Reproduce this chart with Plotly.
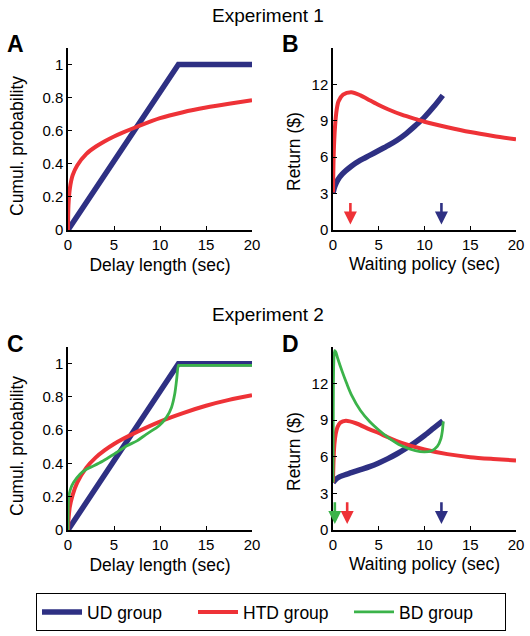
import plotly.graph_objects as go

# ---------------- data ----------------
# Panel A: Experiment 1 cumulative probability
a_ud_x = [0, 12, 20]
a_ud_y = [0, 1, 1]
a_htd_x = [0, 0.05, 0.2, 0.5, 1, 2, 3, 4, 5, 6, 7.5, 10, 12.5, 15, 17.5, 20]
a_htd_y = [0, 0.15, 0.25, 0.33, 0.39, 0.46, 0.503, 0.536, 0.565, 0.59, 0.624, 0.676, 0.712, 0.74, 0.763, 0.784]

# Panel B: Experiment 1 return
b_ud_x = [0, 0.2, 0.5, 1, 2, 3, 4, 5, 6, 7, 8, 9, 10, 11, 12]
b_ud_y = [3.05, 3.6, 4.1, 4.6, 5.25, 5.75, 6.15, 6.55, 6.95, 7.4, 7.95, 8.6, 9.3, 10.15, 11.1]
b_htd_x = [0, 0.08, 0.22, 0.4, 0.6, 1.1, 2, 3, 4, 5, 6, 7.5, 9.3, 10, 12.5, 15, 17.5, 20]
b_htd_y = [3.1, 6.3, 8.5, 9.9, 10.6, 11.15, 11.35, 11.1, 10.7, 10.3, 9.95, 9.5, 9.08, 8.92, 8.47, 8.07, 7.75, 7.47]
b_arrow_x = [1.9, 11.85]

# Panel C: Experiment 2 cumulative probability
c_ud_x = [0, 12, 20]
c_ud_y = [0, 1, 1]
c_htd_x = [0, 0.05, 0.2, 0.5, 1, 2, 3, 4, 5, 6, 7.5, 10, 12.5, 15, 17.5, 20]
c_htd_y = [0, 0.06, 0.14, 0.21, 0.285, 0.375, 0.435, 0.48, 0.517, 0.548, 0.59, 0.652, 0.703, 0.747, 0.782, 0.81]
c_bd_x = [0, 0.02, 0.08, 0.3, 0.6, 1.3, 2, 2.75, 3.8, 5, 6.4, 7.5, 8.5, 9.9, 10.7, 11.25, 11.6, 11.8, 12, 12.05, 20]
c_bd_y = [0, 0.13, 0.2, 0.25, 0.285, 0.335, 0.365, 0.385, 0.415, 0.456, 0.506, 0.536, 0.575, 0.627, 0.677, 0.737, 0.817, 0.9, 0.99, 0.99, 0.99]

# Panel D: Experiment 2 return
d_ud_x = [0, 0.3, 0.7, 1, 2, 3, 4, 5, 6, 7, 8, 9, 10, 11, 12]
d_ud_y = [3.9, 4.15, 4.35, 4.45, 4.7, 4.95, 5.2, 5.5, 5.85, 6.25, 6.7, 7.2, 7.75, 8.35, 8.95]
d_htd_x = [0, 0.05, 0.15, 0.3, 0.5, 0.8, 1.4, 2.5, 4, 5, 6, 7.5, 10, 12.5, 15, 17.5, 20]
d_htd_y = [3.9, 5.5, 7.0, 7.9, 8.45, 8.8, 8.95, 8.75, 8.25, 7.95, 7.6, 7.15, 6.6, 6.22, 5.97, 5.82, 5.7]
d_bd_x = [0, 0.03, 0.08, 0.18, 0.3, 0.5, 1, 1.5, 2, 3, 4, 5, 6, 7.5, 9, 10, 10.8, 11.4, 11.8, 11.95, 12.05]
d_bd_y = [3.9, 10, 13.6, 14.7, 14.6, 14.1, 13.0, 12.0, 11.1, 9.8, 8.9, 8.2, 7.6, 6.9, 6.5, 6.4, 6.5, 6.85, 7.5, 8.1, 8.9]
d_arrow_x = [0.2, 1.55, 11.85]

x_ticks = [0, 5, 10, 15, 20]
p_ticks = [0, 0.2, 0.4, 0.6, 0.8, 1]
p_ticktext = ["0", "0.2", "0.4", "0.6", "0.8", "1"]
r_ticks = [0, 3, 6, 9, 12]

group_names = ["UD group", "HTD group", "BD group"]

# ---------------- style ----------------
BLUE = "#2E3083"
RED = "#EE3237"
GREEN = "#3BB34A"
FONT = "Liberation Sans, Arial, Helvetica, sans-serif"
W, H = 530, 636

fig = go.Figure()

def add(x, y, color, width, xa, ya, name, show=False, shape="spline"):
    fig.add_trace(go.Scatter(x=x, y=y, mode="lines", line=dict(color=color, width=width, shape=shape, smoothing=0.8),
                             xaxis=xa, yaxis=ya, name=name, showlegend=show, hoverinfo="skip"))

add(a_ud_x, a_ud_y, BLUE, 5.5, "x", "y", group_names[0], shape="linear")
add(a_htd_x, a_htd_y, RED, 4, "x", "y", group_names[1])

add(b_ud_x, b_ud_y, BLUE, 5.5, "x2", "y2", group_names[0])
add(b_htd_x, b_htd_y, RED, 4, "x2", "y2", group_names[1])

add(c_ud_x, c_ud_y, BLUE, 5.5, "x3", "y3", group_names[0], show=True, shape="linear")
add(c_htd_x, c_htd_y, RED, 4, "x3", "y3", group_names[1], show=True)
add(c_bd_x, c_bd_y, GREEN, 2.8, "x3", "y3", group_names[2], show=True)

add(d_ud_x, d_ud_y, BLUE, 5.5, "x4", "y4", group_names[0])
add(d_htd_x, d_htd_y, RED, 4, "x4", "y4", group_names[1])
add(d_bd_x, d_bd_y, GREEN, 2.8, "x4", "y4", group_names[2])

# domains (pixels -> paper)
def px(v):
    return v / W
def py(v):
    return 1 - v / H

xdomL = [px(68), px(252)]
xdomR = [px(333), px(516)]
ydomT = [py(230), py(48)]
ydomB = [py(530), py(347)]

axis_common = dict(showline=True, linecolor="black", linewidth=1.5, ticks="inside", ticklen=4,
                   tickwidth=1, tickcolor="black", showgrid=False, zeroline=False, automargin=False,
                   tickfont=dict(family=FONT, size=15, color="black"))

xt = dict(title=dict(text="Delay length (sec)", font=dict(family=FONT, size=17.5, color="black"), standoff=7),
          range=[0, 20], tickvals=x_ticks, **axis_common)
xtw = dict(title=dict(text="Waiting policy (sec)", font=dict(family=FONT, size=17.5, color="black"), standoff=6),
           range=[0, 20], tickvals=x_ticks, **axis_common)
yp = dict(range=[0, 1.1], tickvals=p_ticks, ticktext=p_ticktext, **axis_common)
yr = dict(range=[0, 15], tickvals=r_ticks, **axis_common)

fig.update_layout(
    xaxis=dict(domain=xdomL, anchor="y", **xt),
    yaxis=dict(domain=ydomT, anchor="x", **yp),
    xaxis2=dict(domain=xdomR, anchor="y2", **xtw),
    yaxis2=dict(domain=ydomT, anchor="x2", **yr),
    xaxis3=dict(domain=xdomL, anchor="y3", **xt),
    yaxis3=dict(domain=ydomB, anchor="x3", **yp),
    xaxis4=dict(domain=xdomR, anchor="y4", **xtw),
    yaxis4=dict(domain=ydomB, anchor="x4", **yr),
)

ann = []
# titles
ann.append(dict(text="Experiment 1", x=px(268), y=py(15), xref="paper", yref="paper", showarrow=False,
                font=dict(family=FONT, size=19, color="black"), xanchor="center", yanchor="middle"))
ann.append(dict(text="Experiment 2", x=px(268), y=py(314), xref="paper", yref="paper", showarrow=False,
                font=dict(family=FONT, size=19, color="black"), xanchor="center", yanchor="middle"))
# panel letters
for letter, lx, ly in [("A", 15, 44), ("B", 290, 44), ("C", 15, 344), ("D", 290, 344)]:
    ann.append(dict(text="<b>%s</b>" % letter, x=px(lx), y=py(ly), xref="paper", yref="paper", showarrow=False,
                    font=dict(family=FONT, size=23, color="black"), xanchor="center", yanchor="middle"))
# y axis titles
for txt, lx, ly in [("Cumul. probability", 17, 146), ("Return ($)", 294, 152),
                    ("Cumul. probability", 17, 446), ("Return ($)", 294, 452)]:
    ann.append(dict(text=txt, x=px(lx), y=py(ly), xref="paper", yref="paper", showarrow=False, textangle=-90,
                    font=dict(family=FONT, size=17.5, color="black"), xanchor="center", yanchor="middle"))
# arrows
for xv, col in zip(b_arrow_x, [RED, BLUE]):
    ann.append(dict(x=xv, y=0.45, ax=xv, ay=2.35, xref="x2", yref="y2", axref="x2", ayref="y2",
                    showarrow=True, arrowhead=2, arrowsize=1, arrowwidth=2.6, arrowcolor=col, text=""))
for xv, col in zip(d_arrow_x, [GREEN, RED, BLUE]):
    ann.append(dict(x=xv, y=0.5, ax=xv, ay=2.4, xref="x4", yref="y4", axref="x4", ayref="y4",
                    showarrow=True, arrowhead=2, arrowsize=1, arrowwidth=2.6, arrowcolor=col, text=""))

fig.update_layout(
    annotations=ann,
    width=W, height=H,
    margin=dict(l=0, r=0, t=0, b=0, autoexpand=False),
    paper_bgcolor="white", plot_bgcolor="white",
    font=dict(family=FONT, color="black"),
    showlegend=True,
    legend=dict(orientation="h", x=px(36), y=py(593), xanchor="left", yanchor="top",
                bordercolor="black", borderwidth=1, font=dict(family=FONT, size=17.5, color="black"),
                entrywidth=101, entrywidthmode="pixels", itemwidth=40, traceorder="normal"),
)

fig.write_html("out.html", config={"displayModeBar": False},
               post_script="document.body.style.margin='0';document.body.style.overflow='hidden';")
